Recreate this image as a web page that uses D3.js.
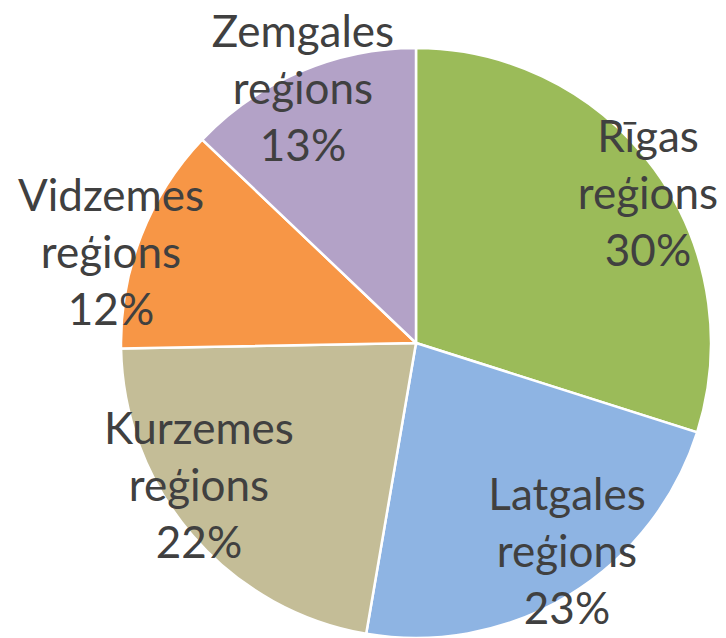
<!DOCTYPE html>
<html>
<head>
<meta charset="utf-8">
<script src="https://cdn.jsdelivr.net/npm/d3@7"></script>
<style>
  body { margin: 0; background: #fff; }
  svg { display: block; }
</style>
</head>
<body>
<svg></svg>
<script>
// regions, clockwise from 12 o'clock
const regions = ["Rīgas", "Latgales", "Kurzemes", "Vidzemes", "Zemgales"];
const shares = [29.9, 22.8, 22.0, 12.4, 12.9];
const colors = ["#9bbb59", "#8eb4e3", "#c4bd97", "#f79646", "#b3a2c7"];
// label anchor (centre of middle line)
const labelX = [648, 567, 199, 111, 303];
const labelY = [209, 567, 501, 268, 104];

var width = 726;
var height = 638;
var cx = 416, cy = 343, radius = 295;
var lineH = 57;

var svg = d3.select("svg")
    .attr("width", width)
    .attr("height", height);

var data = regions.map(function(r, i) {
  return { name: r, value: shares[i], color: colors[i], lx: labelX[i], ly: labelY[i] };
});

var pie = d3.pie()
    .sort(null)
    .value(function(d) { return d.value; });

var arc = d3.arc()
    .innerRadius(0)
    .outerRadius(radius);

var g = svg.append("g")
    .attr("transform", "translate(" + cx + "," + cy + ")");

g.selectAll("path")
  .data(pie(data))
  .enter()
  .append("path")
    .attr("d", arc)
    .attr("fill", function(d) { return d.data.color; })
    .attr("stroke", "#fff")
    .style("stroke-width", "2.5px");

var total = d3.sum(shares);

var labels = svg.selectAll("text.lbl")
  .data(data)
  .enter()
  .append("text")
    .attr("class", "lbl")
    .attr("text-anchor", "middle")
    .attr("fill", "#404040")
    .style("font-family", "Lato, 'Open Sans', sans-serif")
    .style("font-size", "44px");

labels.each(function(d) {
  var lines = [d.name, "reģions", Math.round(d.value / total * 100) + "%"];
  d3.select(this).selectAll("tspan")
    .data(lines)
    .enter()
    .append("tspan")
      .attr("x", d.lx)
      .attr("y", function(t, j) { return d.ly + (j - 1) * lineH; })
      .text(function(t) { return t; });
});
</script>
</body>
</html>
